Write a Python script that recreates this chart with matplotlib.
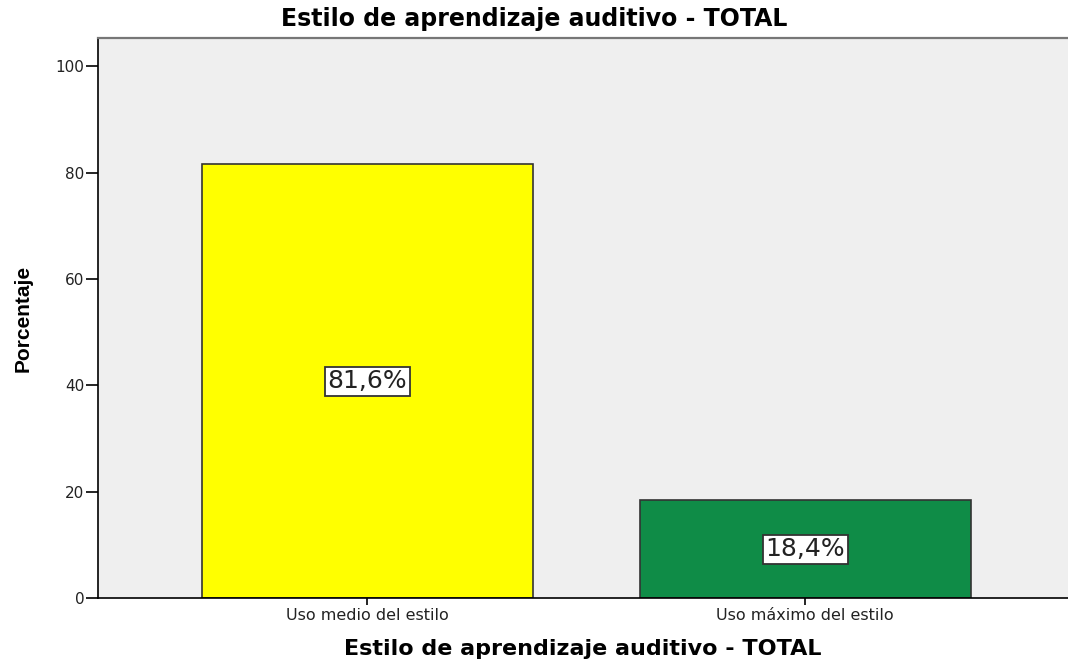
import matplotlib
matplotlib.use("Agg")
import matplotlib.pyplot as plt
import numpy as np

# datos
categorias = ["Uso medio del estilo", "Uso máximo del estilo"]
porcentajes = [81.6, 18.4]
etiquetas = ["81,6%", "18,4%"]
colores = ["#FFFF00", "#0F8C47"]
yticks = [0, 20, 40, 60, 80, 100]

fig = plt.figure(figsize=(10.68, 6.61), dpi=100)
ax = fig.add_axes([0.0918, 0.0953, 0.9082, 0.8472])
ax.set_facecolor("#EFEFEF")

x = np.arange(len(categorias))
ax.bar(x, porcentajes, width=0.757, color=colores, edgecolor="#333333", linewidth=1.2, zorder=2)

for xi, v, lab in zip(x, porcentajes, etiquetas):
    ax.text(xi, v / 2, lab, ha="center", va="center", fontsize=18,
            family="DejaVu Sans", color="#222222", zorder=3,
            bbox=dict(boxstyle="square,pad=0.1", facecolor="white", edgecolor="#333333", linewidth=1.3))

ax.set_xlim(-0.615, 1.6)
ax.set_ylim(0, 105.3)
ax.set_yticks(yticks)
ax.set_yticklabels([str(t) for t in yticks], family="DejaVu Sans", fontsize=11, color="#222222")
ax.set_xticks(x)
ax.set_xticklabels(categorias, family="DejaVu Sans", fontsize=11.5, color="#222222")
ax.tick_params(axis="y", direction="out", length=9, width=1.2, pad=1)
ax.tick_params(axis="x", direction="out", length=5, width=1.2, pad=2)

ax.spines["right"].set_visible(False)
ax.spines["top"].set_color("#777777")
ax.spines["top"].set_linewidth(1.6)
ax.spines["left"].set_linewidth(1.2)
ax.spines["bottom"].set_linewidth(1.2)

fig.suptitle("Estilo de aprendizaje auditivo - TOTAL", family="DejaVu Sans",
             fontweight="bold", fontsize=17, x=0.5, y=0.971, va="center")
ax.set_xlabel("Estilo de aprendizaje auditivo - TOTAL", family="DejaVu Sans",
              fontweight="bold", fontsize=16, labelpad=12)
ax.set_ylabel("Porcentaje", family="Liberation Sans",
              fontweight="bold", fontsize=15, labelpad=16)

fig.savefig("out.png", dpi=100)
